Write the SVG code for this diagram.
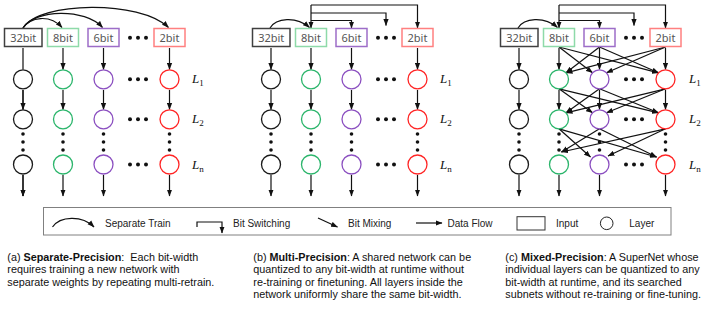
<svg xmlns="http://www.w3.org/2000/svg" width="706" height="318" viewBox="0 0 706 318">
<style>
.ln{stroke:#111;stroke-width:1.2;fill:none}
.arr{marker-end:url(#ah)}
.bx{fill:#fff;stroke-width:1.5}
.bt{font-family:"Noto Sans","DejaVu Sans",sans-serif;font-size:11px;fill:#555;text-anchor:middle}
.cir{fill:#fff;stroke-width:1.3}
.k{stroke:#1a1a1a}.g{stroke:#2bb56b}.p{stroke:#8b4fc0}.r{stroke:#ff2424}
.bk{stroke:#404040}.bg{stroke:#8edaa9}.bp{stroke:#9d6dc8}.br{stroke:#ff8080}
.dot{fill:#111}
.L{font-family:"Liberation Serif",serif;font-style:italic;font-size:13px;fill:#111}
.sub{font-style:normal;font-size:9px}
.lg{font-family:"Liberation Sans",Arial,sans-serif;font-size:10px;fill:#222}
.cap{font-family:"Liberation Sans",Arial,sans-serif;font-size:10.8px;fill:#111}
</style>
<defs>
<marker id="ah" markerWidth="7" markerHeight="6" refX="6.5" refY="3" orient="auto" markerUnits="userSpaceOnUse"><path d="M0,0.4 L7,3 L0,5.6 z" fill="#111"/></marker>
</defs>
<rect width="706" height="318" fill="#fff"/>

<!-- Panel A -->
<g id="panel-a">
 <g id="a-connectors">
  <path class="ln arr" d="M23,28 C30,17 50,14 62,27.5"/>
  <path class="ln arr" d="M23,28 C35,9 85,8 102.5,27.5"/>
  <path class="ln arr" d="M23,28 C40,1 140,0 168.5,27.5"/>
  <path class="ln arr" d="M23,48 V69.5 M23,90 V109.5 M23,175 V196"/>
  <path class="ln arr" d="M63,48 V69.5"/><path class="ln arr" d="M63,90 V109.5"/><path class="ln arr" d="M63,175 V196"/>
  <path class="ln arr" d="M103.5,48 V69.5"/><path class="ln arr" d="M103.5,90 V109.5"/><path class="ln arr" d="M103.5,175 V196"/>
  <path class="ln arr" d="M169.5,48 V69.5"/><path class="ln arr" d="M169.5,90 V109.5"/><path class="ln arr" d="M169.5,175 V196"/>
  <path class="ln arr" d="M23,90 V109.5"/><path class="ln arr" d="M23,175 V196"/>
 </g>
 <g id="a-in32"><rect class="bx bk" x="4.5" y="28.5" width="37.5" height="18"/><text class="bt" x="23.25" y="42">32bit</text></g>
 <g id="a-in8"><rect class="bx bg" x="47.5" y="28.5" width="31" height="18"/><text class="bt" x="63" y="42">8bit</text></g>
 <g id="a-in6"><rect class="bx bp" x="88" y="28.5" width="31" height="18"/><text class="bt" x="103.5" y="42">6bit</text></g>
 <g id="a-in2"><rect class="bx br" x="154" y="28.5" width="31" height="18"/><text class="bt" x="169.5" y="42">2bit</text></g>
 <g id="a-l32-1"><circle class="cir k" cx="23" cy="79.3" r="9.5"/></g>
 <g id="a-l32-2"><circle class="cir k" cx="23" cy="119.3" r="9.5"/></g>
 <g id="a-l32-n"><circle class="cir k" cx="23" cy="164.5" r="9.5"/></g>
 <g id="a-l8-1"><circle class="cir g" cx="63" cy="79.3" r="9.5"/></g>
 <g id="a-l8-2"><circle class="cir g" cx="63" cy="119.3" r="9.5"/></g>
 <g id="a-l8-n"><circle class="cir g" cx="63" cy="164.5" r="9.5"/></g>
 <g id="a-l6-1"><circle class="cir p" cx="103.5" cy="79.3" r="9.5"/></g>
 <g id="a-l6-2"><circle class="cir p" cx="103.5" cy="119.3" r="9.5"/></g>
 <g id="a-l6-n"><circle class="cir p" cx="103.5" cy="164.5" r="9.5"/></g>
 <g id="a-l2-1"><circle class="cir r" cx="169.5" cy="79.3" r="9.5"/></g>
 <g id="a-l2-2"><circle class="cir r" cx="169.5" cy="119.3" r="9.5"/></g>
 <g id="a-l2-n"><circle class="cir r" cx="169.5" cy="164.5" r="9.5"/></g>
 <g class="dot">
  <circle cx="130" cy="37.7" r="2"/><circle cx="138" cy="37.7" r="2"/><circle cx="146" cy="37.7" r="2"/>
  <circle cx="130" cy="79.3" r="2"/><circle cx="138" cy="79.3" r="2"/><circle cx="146" cy="79.3" r="2"/>
  <circle cx="130" cy="119.3" r="2"/><circle cx="138" cy="119.3" r="2"/><circle cx="146" cy="119.3" r="2"/>
  <circle cx="130" cy="164.5" r="2"/><circle cx="138" cy="164.5" r="2"/><circle cx="146" cy="164.5" r="2"/>
  <circle cx="23" cy="134" r="1.8"/><circle cx="23" cy="142" r="1.8"/><circle cx="23" cy="150" r="1.8"/>
  <circle cx="63" cy="134" r="1.8"/><circle cx="63" cy="142" r="1.8"/><circle cx="63" cy="150" r="1.8"/>
  <circle cx="103.5" cy="134" r="1.8"/><circle cx="103.5" cy="142" r="1.8"/><circle cx="103.5" cy="150" r="1.8"/>
  <circle cx="169.5" cy="134" r="1.8"/><circle cx="169.5" cy="142" r="1.8"/><circle cx="169.5" cy="150" r="1.8"/>
 </g>
 <text class="L" x="192" y="83.3">L<tspan class="sub" dy="3">1</tspan></text>
 <text class="L" x="192" y="123.3">L<tspan class="sub" dy="3">2</tspan></text>
 <text class="L" x="192" y="168.5">L<tspan class="sub" dy="3">n</tspan></text>
</g>

<!-- Panel B -->
<g id="panel-b" transform="translate(248,0)">
 <g id="b-connectors">
  <path class="ln arr" d="M22,28 C28,18 48,16 61.5,27.5"/>
  <path class="ln arr" d="M63,5 V28"/>
  <path class="ln arr" d="M63,5 H169.5 V28"/>
  <path class="ln arr" d="M63,13 H138 V25.5"/>
  <path class="ln arr" d="M63,20.5 H103.5 V28"/>
  <path class="ln arr" d="M23,48 V69.5"/><path class="ln arr" d="M23,90 V109.5"/><path class="ln arr" d="M23,175 V196"/>
  <path class="ln arr" d="M63,48 V69.5"/><path class="ln arr" d="M63,90 V109.5"/><path class="ln arr" d="M63,175 V196"/>
  <path class="ln arr" d="M103.5,48 V69.5"/><path class="ln arr" d="M103.5,90 V109.5"/><path class="ln arr" d="M103.5,175 V196"/>
  <path class="ln arr" d="M169.5,48 V69.5"/><path class="ln arr" d="M169.5,90 V109.5"/><path class="ln arr" d="M169.5,175 V196"/>
 </g>
 <g id="b-in32"><rect class="bx bk" x="4.5" y="28.5" width="37.5" height="18"/><text class="bt" x="23.25" y="42">32bit</text></g>
 <g id="b-in8"><rect class="bx bg" x="47.5" y="28.5" width="31" height="18"/><text class="bt" x="63" y="42">8bit</text></g>
 <g id="b-in6"><rect class="bx bp" x="88" y="28.5" width="31" height="18"/><text class="bt" x="103.5" y="42">6bit</text></g>
 <g id="b-in2"><rect class="bx br" x="154" y="28.5" width="31" height="18"/><text class="bt" x="169.5" y="42">2bit</text></g>
 <g id="b-l32-1"><circle class="cir k" cx="23" cy="79.3" r="9.5"/></g>
 <g id="b-l32-2"><circle class="cir k" cx="23" cy="119.3" r="9.5"/></g>
 <g id="b-l32-n"><circle class="cir k" cx="23" cy="164.5" r="9.5"/></g>
 <g id="b-l8-1"><circle class="cir g" cx="63" cy="79.3" r="9.5"/></g>
 <g id="b-l8-2"><circle class="cir g" cx="63" cy="119.3" r="9.5"/></g>
 <g id="b-l8-n"><circle class="cir g" cx="63" cy="164.5" r="9.5"/></g>
 <g id="b-l6-1"><circle class="cir p" cx="103.5" cy="79.3" r="9.5"/></g>
 <g id="b-l6-2"><circle class="cir p" cx="103.5" cy="119.3" r="9.5"/></g>
 <g id="b-l6-n"><circle class="cir p" cx="103.5" cy="164.5" r="9.5"/></g>
 <g id="b-l2-1"><circle class="cir r" cx="169.5" cy="79.3" r="9.5"/></g>
 <g id="b-l2-2"><circle class="cir r" cx="169.5" cy="119.3" r="9.5"/></g>
 <g id="b-l2-n"><circle class="cir r" cx="169.5" cy="164.5" r="9.5"/></g>
 <g class="dot">
  <circle cx="130" cy="37.7" r="2"/><circle cx="138" cy="37.7" r="2"/><circle cx="146" cy="37.7" r="2"/>
  <circle cx="130" cy="79.3" r="2"/><circle cx="138" cy="79.3" r="2"/><circle cx="146" cy="79.3" r="2"/>
  <circle cx="130" cy="119.3" r="2"/><circle cx="138" cy="119.3" r="2"/><circle cx="146" cy="119.3" r="2"/>
  <circle cx="130" cy="164.5" r="2"/><circle cx="138" cy="164.5" r="2"/><circle cx="146" cy="164.5" r="2"/>
  <circle cx="23" cy="134" r="1.8"/><circle cx="23" cy="142" r="1.8"/><circle cx="23" cy="150" r="1.8"/>
  <circle cx="63" cy="134" r="1.8"/><circle cx="63" cy="142" r="1.8"/><circle cx="63" cy="150" r="1.8"/>
  <circle cx="103.5" cy="134" r="1.8"/><circle cx="103.5" cy="142" r="1.8"/><circle cx="103.5" cy="150" r="1.8"/>
  <circle cx="169.5" cy="134" r="1.8"/><circle cx="169.5" cy="142" r="1.8"/><circle cx="169.5" cy="150" r="1.8"/>
 </g>
 <text class="L" x="192" y="83.3">L<tspan class="sub" dy="3">1</tspan></text>
 <text class="L" x="192" y="123.3">L<tspan class="sub" dy="3">2</tspan></text>
 <text class="L" x="192" y="168.5">L<tspan class="sub" dy="3">n</tspan></text>
</g>

<!-- Panel C -->
<g id="panel-c" transform="translate(496,0)">
 <g id="c-connectors">
  <path class="ln arr" d="M22,28 C28,18 48,16 61.5,27.5"/>
  <path class="ln arr" d="M63,5 V28"/>
  <path class="ln arr" d="M63,5 H169.5 V28"/>
  <path class="ln arr" d="M63,13 H138 V25.5"/>
  <path class="ln arr" d="M63,20.5 H103.5 V28"/>
  <path class="ln arr" d="M23,48 V69.5"/><path class="ln arr" d="M23,90 V109.5"/><path class="ln arr" d="M23,175 V196"/>
  <path class="ln arr" d="M63,48 V69.5"/><path class="ln arr" d="M63,90 V109.5"/><path class="ln arr" d="M63,175 V196"/>
  <path class="ln arr" d="M103.5,48 V69.5"/><path class="ln arr" d="M103.5,90 V109.5"/><path class="ln arr" d="M103.5,175 V196"/>
  <path class="ln arr" d="M169.5,48 V69.5"/><path class="ln arr" d="M169.5,90 V109.5"/><path class="ln arr" d="M169.5,175 V196"/>
  <!-- bit mixing band 1 -->
  <path class="ln arr" d="M63,47 L96.5,72.8"/>
  <path class="ln arr" d="M63,47 L162.5,72.8"/>
  <path class="ln arr" d="M103.5,47 L70,72.8"/>
  <path class="ln arr" d="M103.5,47 L162.5,72.8"/>
  <path class="ln arr" d="M169.5,47 L70,72.8"/>
  <path class="ln arr" d="M169.5,47 L110.5,72.8"/>
  <!-- band 2 -->
  <path class="ln arr" d="M63,88.8 L96.5,112.8"/>
  <path class="ln arr" d="M63,88.8 L162.5,112.8"/>
  <path class="ln arr" d="M103.5,88.8 L70,112.8"/>
  <path class="ln arr" d="M103.5,88.8 L162.5,112.8"/>
  <path class="ln arr" d="M169.5,88.8 L70,112.8"/>
  <path class="ln arr" d="M169.5,88.8 L110.5,112.8"/>
  <!-- band 3 -->
  <path class="ln arr" d="M63,128.8 L94.5,157"/>
  <path class="ln arr" d="M63,128.8 L160.5,157"/>
  <path class="ln arr" d="M103.5,128.8 L65.5,152"/>
  <path class="ln arr" d="M103.5,128.8 L160.5,157"/>
  <path class="ln arr" d="M169.5,128.8 L65.5,152"/>
  <path class="ln arr" d="M169.5,128.8 L112,156"/>
 </g>
 <g id="c-in32"><rect class="bx bk" x="4.5" y="28.5" width="37.5" height="18"/><text class="bt" x="23.25" y="42">32bit</text></g>
 <g id="c-in8"><rect class="bx bg" x="47.5" y="28.5" width="31" height="18"/><text class="bt" x="63" y="42">8bit</text></g>
 <g id="c-in6"><rect class="bx bp" x="88" y="28.5" width="31" height="18"/><text class="bt" x="103.5" y="42">6bit</text></g>
 <g id="c-in2"><rect class="bx br" x="154" y="28.5" width="31" height="18"/><text class="bt" x="169.5" y="42">2bit</text></g>
 <g id="c-l32-1"><circle class="cir k" cx="23" cy="79.3" r="9.5"/></g>
 <g id="c-l32-2"><circle class="cir k" cx="23" cy="119.3" r="9.5"/></g>
 <g id="c-l32-n"><circle class="cir k" cx="23" cy="164.5" r="9.5"/></g>
 <g id="c-l8-1"><circle class="cir g" cx="63" cy="79.3" r="9.5"/></g>
 <g id="c-l8-2"><circle class="cir g" cx="63" cy="119.3" r="9.5"/></g>
 <g id="c-l8-n"><circle class="cir g" cx="63" cy="164.5" r="9.5"/></g>
 <g id="c-l6-1"><circle class="cir p" cx="103.5" cy="79.3" r="9.5"/></g>
 <g id="c-l6-2"><circle class="cir p" cx="103.5" cy="119.3" r="9.5"/></g>
 <g id="c-l6-n"><circle class="cir p" cx="103.5" cy="164.5" r="9.5"/></g>
 <g id="c-l2-1"><circle class="cir r" cx="169.5" cy="79.3" r="9.5"/></g>
 <g id="c-l2-2"><circle class="cir r" cx="169.5" cy="119.3" r="9.5"/></g>
 <g id="c-l2-n"><circle class="cir r" cx="169.5" cy="164.5" r="9.5"/></g>
 <g class="dot">
  <circle cx="130" cy="37.7" r="2"/><circle cx="138" cy="37.7" r="2"/><circle cx="146" cy="37.7" r="2"/>
  <circle cx="130" cy="79.3" r="2"/><circle cx="138" cy="79.3" r="2"/><circle cx="146" cy="79.3" r="2"/>
  <circle cx="130" cy="119.3" r="2"/><circle cx="138" cy="119.3" r="2"/><circle cx="146" cy="119.3" r="2"/>
  <circle cx="130" cy="164.5" r="2"/><circle cx="138" cy="164.5" r="2"/><circle cx="146" cy="164.5" r="2"/>
  <circle cx="23" cy="134" r="1.8"/><circle cx="23" cy="142" r="1.8"/><circle cx="23" cy="150" r="1.8"/>
  <circle cx="63" cy="134" r="1.8"/><circle cx="63" cy="142" r="1.8"/><circle cx="63" cy="150" r="1.8"/>
  <circle cx="103.5" cy="134" r="1.8"/><circle cx="103.5" cy="142" r="1.8"/><circle cx="103.5" cy="150" r="1.8"/>
  <circle cx="169.5" cy="134" r="1.8"/><circle cx="169.5" cy="142" r="1.8"/><circle cx="169.5" cy="150" r="1.8"/>
 </g>
 <text class="L" x="193" y="83.3">L<tspan class="sub" dy="3">1</tspan></text>
 <text class="L" x="193" y="123.3">L<tspan class="sub" dy="3">2</tspan></text>
 <text class="L" x="193" y="168.5">L<tspan class="sub" dy="3">n</tspan></text>
</g>

<!-- Legend -->
<g id="legend">
 <rect x="43.5" y="207.5" width="627.5" height="27.5" fill="none" stroke="#808080" stroke-width="1"/>
 <path class="ln arr" d="M52.5,227 C60,216 82,215 94,227"/>
 <text class="lg" x="105" y="227">Separate Train</text>
 <path class="ln arr" d="M197,227 V222 H222 V233"/>
 <text class="lg" x="233" y="227">Bit Switching</text>
 <path class="ln arr" d="M318,218 L337.5,227"/>
 <text class="lg" x="348" y="227">Bit Mixing</text>
 <path class="ln arr" d="M416,223 H442"/>
 <text class="lg" x="447.5" y="227">Data Flow</text>
 <rect x="517" y="216.7" width="28" height="13.3" fill="none" stroke="#333" stroke-width="1"/>
 <text class="lg" x="556" y="227">Input</text>
 <circle cx="606.7" cy="223.3" r="6.3" fill="none" stroke="#222" stroke-width="1"/>
 <text class="lg" x="629.3" y="227">Layer</text>
</g>

<!-- Captions -->
<g id="captions">
 <text class="cap" x="7.3" y="261" xml:space="preserve">(a) <tspan font-weight="bold">Separate-Precision</tspan>:  Each bit-width</text>
 <text class="cap" x="7.3" y="273.3">requires training a new network with</text>
 <text class="cap" x="7.3" y="285.6">separate weights by repeating multi-retrain.</text>
 <text class="cap" x="253.3" y="261">(b) <tspan font-weight="bold">Multi-Precision</tspan>: A shared network can be</text>
 <text class="cap" x="253.3" y="273.3">quantized to any bit-width at runtime without</text>
 <text class="cap" x="253.3" y="285.6">re-training or finetuning. All layers inside the</text>
 <text class="cap" x="253.3" y="297.9">network uniformly share the same bit-width.</text>
 <text class="cap" x="505.3" y="261">(c) <tspan font-weight="bold">Mixed-Precision</tspan>: A SuperNet whose</text>
 <text class="cap" x="505.3" y="273.3">individual layers can be quantized to any</text>
 <text class="cap" x="505.3" y="285.6">bit-width at runtime, and its searched</text>
 <text class="cap" x="505.3" y="297.9">subnets without re-training or fine-tuning.</text>
</g>
</svg>
